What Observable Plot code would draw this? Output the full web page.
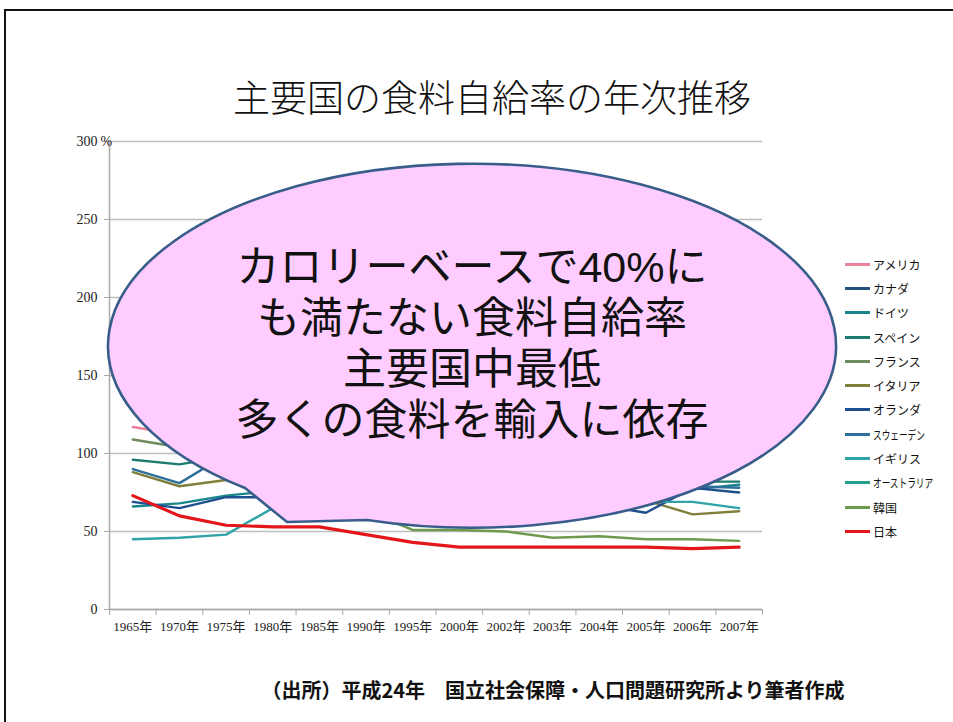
<!DOCTYPE html>
<html><head><meta charset="utf-8">
<script src="https://cdn.jsdelivr.net/npm/d3@7"></script>
<script src="https://cdn.jsdelivr.net/npm/@observablehq/plot@0.6"></script>
<style>
body{margin:0;background:#fff;width:953px;height:722px;overflow:hidden;position:relative;font-family:"Noto Sans CJK JP",sans-serif;}
#frame{position:absolute;left:4px;top:9px;width:980px;height:740px;border-left:2px solid #111;border-top:2px solid #111;box-sizing:border-box;}
#title{position:absolute;left:492px;top:78px;transform:translateX(-50%);white-space:nowrap;font-size:37px;line-height:37px;font-weight:300;color:#111;}
#chart{position:absolute;left:0;top:0;}
#bubble{position:absolute;left:0;top:0;}
#btext{position:absolute;left:472px;top:242px;transform:translateX(-50%);white-space:nowrap;text-align:center;font-family:"Liberation Sans","Noto Sans CJK JP",sans-serif;font-size:43px;line-height:51px;font-weight:400;color:#111;}
#btext div{height:51px;}
#legend{position:absolute;left:845px;top:252px;}
.lg{display:flex;align-items:center;height:24.3px;}
.sw{width:25px;height:3px;margin-right:3px;}
.lb{font-size:12px;white-space:nowrap;transform-origin:left center;color:#111;}
#caption{position:absolute;left:553px;top:680px;transform:translateX(-50%);white-space:nowrap;font-size:20px;line-height:20px;font-weight:700;color:#111;}
</style></head>
<body>
<div id="frame"></div>
<div id="title">主要国の食料自給率の年次推移</div>
<div id="chart"></div>
<div id="legend"></div>
<div id="caption">（出所）平成24年　国立社会保障・人口問題研究所より筆者作成</div>
<script>
const yearLabels = ["1965年","1970年","1975年","1980年","1985年","1990年","1995年","2000年","2002年","2003年","2004年","2005年","2006年","2007年"];
const yTicks = [0, 50, 100, 150, 200, 250, 300];
const countries = ["アメリカ","カナダ","ドイツ","スペイン","フランス","イタリア","オランダ","スウェーデン","イギリス","オーストラリア","韓国","日本"];
const colors = ["#e8839b","#24507c","#17858a","#1e7b6e","#6e8b5e","#80803c","#1f4e8f","#2d6f9b","#2fa3a8","#22a08c","#6e9a4e","#e3171b"];

const usa       = [117,112,146,151,142,129,129,125,119,128,122,123,120,124];
const canada    = [152,109,143,156,176,187,163,161,120,145,160,173,185,168];
const germany   = [66,68,73,76,85,93,88,96,91,84,94,85,77,80];
const spain     = [96,93,98,102,95,96,73,96,90,89,90,73,82,82];
const france    = [109,104,117,131,135,142,131,132,130,122,135,129,121,111];
const italy     = [88,79,83,80,77,72,77,73,71,62,73,70,61,63];
const netherlands = [69,65,72,72,73,78,72,70,67,58,67,62,78,75];
const sweden    = [90,81,99,94,98,113,79,89,87,84,88,81,79,78];
const uk        = [45,46,48,65,72,75,76,74,74,70,70,69,69,65];
const australia = [199,206,230,212,242,233,261,280,230,237,238,245,172,173];
const korea     = [null,null,null,null,null,63,51,51,50,46,47,45,45,44];
const japan     = [73,60,54,53,53,48,43,40,40,40,40,40,39,40];

const series = [usa,canada,germany,spain,france,italy,netherlands,sweden,uk,australia,korea,japan];
const rows = [];
series.forEach((vals, k) => vals.forEach((v, i) => rows.push({country: countries[k], i, v})));
const others = rows.filter(d => d.country !== "日本");
const jp = rows.filter(d => d.country === "日本");

const chart = Plot.plot({
  width: 953, height: 722,
  marginLeft: 109, marginRight: 191, marginTop: 141, marginBottom: 113,
  x: {type: "linear", domain: [-0.5, yearLabels.length - 0.5], label: null},
  y: {domain: [0, 300], label: null},
  color: {domain: countries, range: colors},
  style: {fontFamily: "'Liberation Serif','Noto Sans CJK JP',serif", fontSize: "13px", color: "#222", background: "transparent"},
  marks: [
    Plot.gridY(yTicks, {stroke: "#bdbdbd", strokeOpacity: 1, strokeWidth: 1.4}),
    Plot.ruleX([-0.5], {stroke: "#a8a8a8", strokeWidth: 1.5}),
    Plot.ruleY([0], {stroke: "#a8a8a8", strokeWidth: 1.5}),
    Plot.axisY({ticks: yTicks, tickSize: 5, tickPadding: 7, stroke: "#a8a8a8", fill: "#222", fontSize: 14, label: null, tickFormat: d => String(d)}),
    Plot.text(["%"], {x: -0.5, y: 300, dx: -9, textAnchor: "start", fill: "#222", fontSize: 14}),
    Plot.axisX({ticks: d3.range(yearLabels.length + 1).map(i => i - 0.5), tickSize: 6, stroke: "#a8a8a8", label: null, tickFormat: () => ""}),
    Plot.axisX({ticks: d3.range(yearLabels.length), tickSize: 0, tickPadding: 12, fill: "#222", fontSize: 13, label: null, tickFormat: i => yearLabels[i]}),
    Plot.line(others, {x: "i", y: "v", z: "country", stroke: "country", strokeWidth: 2.4}),
    Plot.line(jp, {x: "i", y: "v", z: "country", stroke: "country", strokeWidth: 3.2})
  ]
});
document.getElementById("chart").appendChild(chart);

// legend
const lg = document.getElementById("legend");
countries.forEach((c, k) => {
  const row = document.createElement("div"); row.className = "lg";
  const sw = document.createElement("div"); sw.className = "sw"; sw.style.background = colors[k];
  const lb = document.createElement("div"); lb.className = "lb"; lb.textContent = c;
  if (c.length >= 6) lb.style.transform = "scaleX(0.72)";
  row.appendChild(sw); row.appendChild(lb); lg.appendChild(row);
});

// callout balloon overlay
const bubbleLines = ["カロリーベースで40%に","も満たない食料自給率","主要国中最低","多くの食料を輸入に依存"];
const svg = d3.select("body").append("svg").attr("id", "bubble").attr("width", 953).attr("height", 722);
svg.append("path")
  .attr("d", "M245,488 L287,522 L367,520 A364,182 0 1 0 245,488 Z")
  .attr("fill", "#ffccff").attr("stroke", "#385d8a").attr("stroke-width", 2.6);
const bt = d3.select("body").append("div").attr("id", "btext");
bubbleLines.forEach(t => bt.append("div").text(t));
</script>
</body></html>
